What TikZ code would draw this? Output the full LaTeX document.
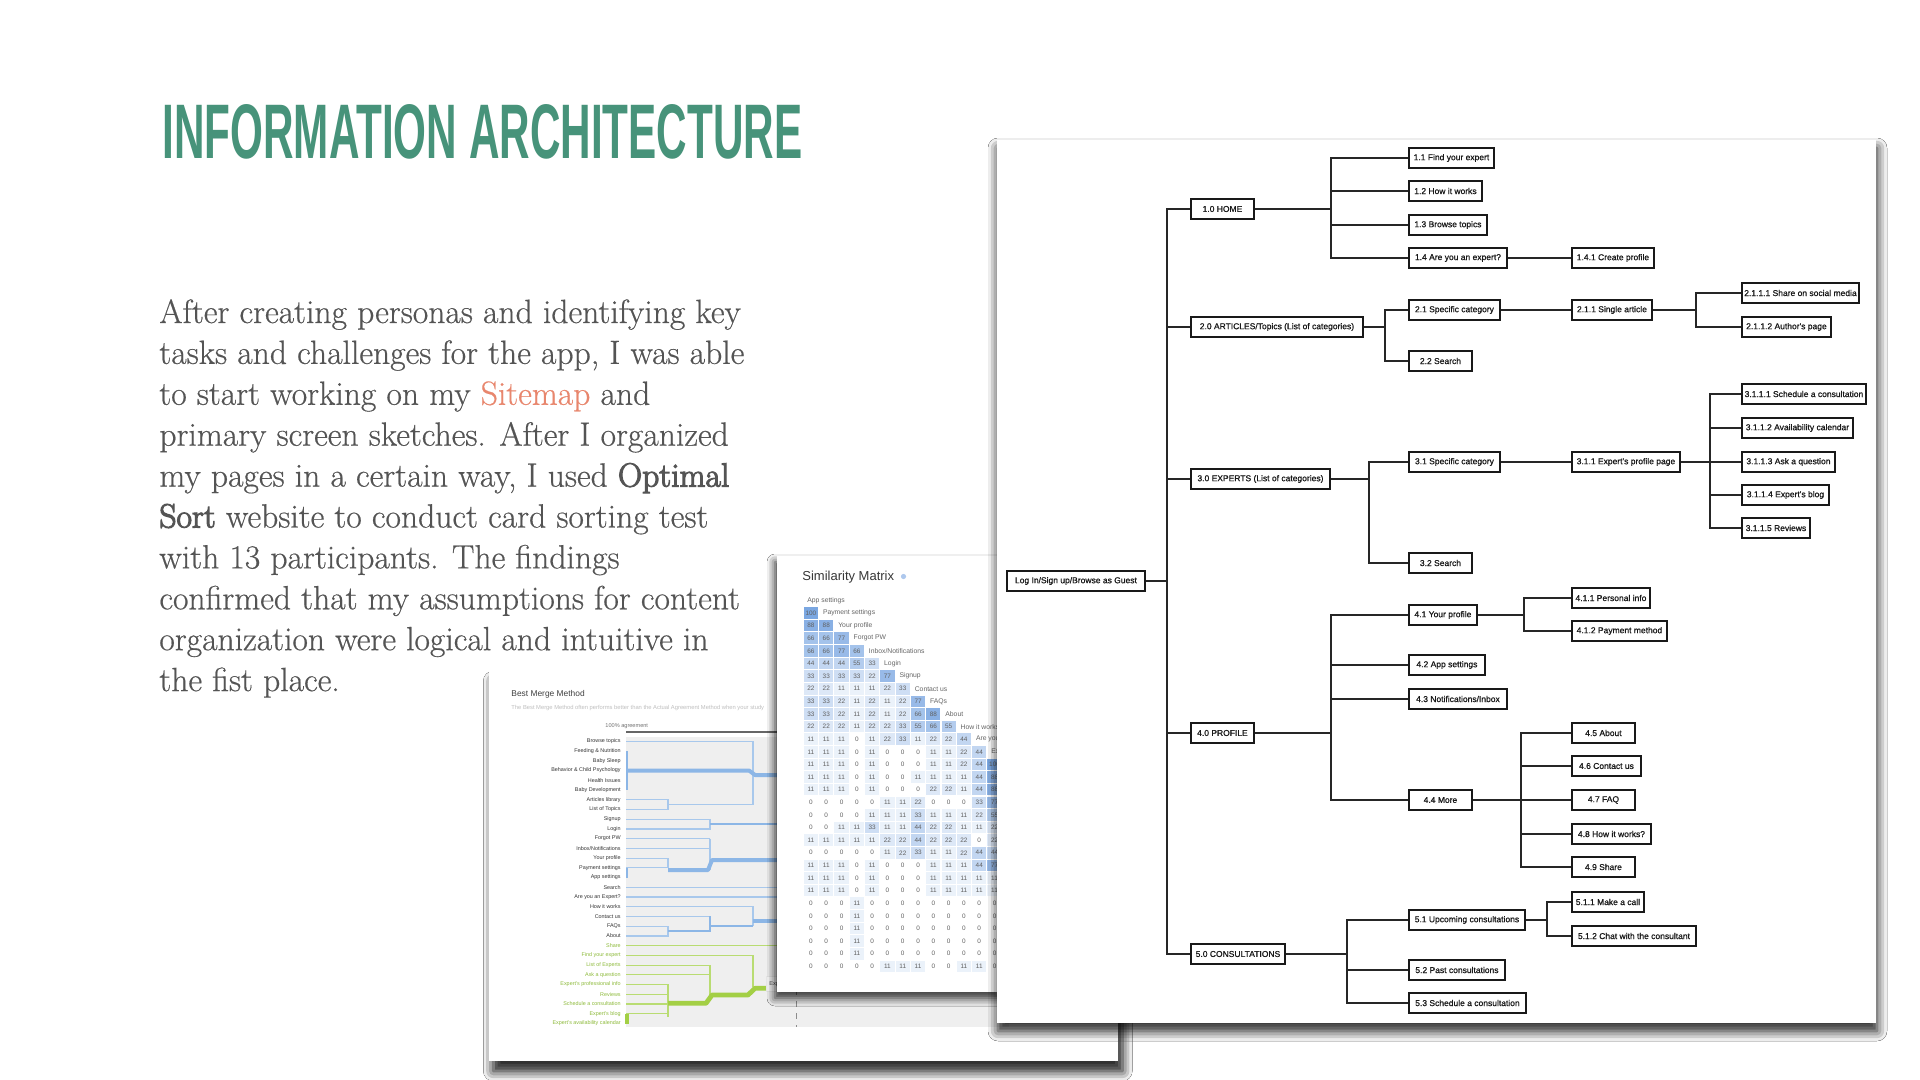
\documentclass[tikz,border=0pt]{standalone}
\usepackage{fontspec}
\usepackage{graphicx}
\usetikzlibrary{shadows.blur}

\newfontfamily\uisans{Liberation Sans}
\newfontfamily\mapsans{Liberation Sans}[FakeBold=0.8]
\newfontfamily\headsans{Liberation Sans}
\newfontfamily\bodyserif{Latin Modern Roman}[FakeBold=0.5]
\newfontfamily\bodystrong{Latin Modern Roman}[FakeBold=3.2]

\definecolor{headgreen}{HTML}{47937A}
\definecolor{bodytext}{HTML}{545454}
\definecolor{linkred}{HTML}{E8866D}
\definecolor{cellblue}{HTML}{4A86D6}
\definecolor{treeblue}{HTML}{A8C8EC}
\definecolor{treebluedark}{HTML}{8CB6E6}
\definecolor{treegreen}{HTML}{B9DC72}
\definecolor{treegreendark}{HTML}{A3CF45}
\definecolor{panelgray}{HTML}{EFEFEF}
\definecolor{labelgreen}{HTML}{8DBA3A}

\tikzset{
  card/.style={fill=white, inner sep=0pt, outer sep=0pt, anchor=north west,
    blur shadow={shadow xshift=0pt, shadow yshift=-3pt, shadow blur radius=4pt, shadow opacity=45}},
  pagebox/.style={draw=black!90, line width=0.95pt, fill=white, inner sep=0pt,
    minimum height=10pt, text=black!90, font=\mapsans\fontsize{4.25}{5}\selectfont},
  branch/.style={draw=black!85, line width=0.7pt},
  bodyline/.style={anchor=base west, inner sep=0pt, text=bodytext,
    font=\bodyserif\fontsize{16.8}{20.45}\selectfont},
  cellnum/.style={inner sep=0pt, text=black!62, font=\uisans\fontsize{3.2}{4}\selectfont},
  rowlabel/.style={anchor=west, inner sep=0pt, text=black!60, font=\uisans\fontsize{3.4}{4}\selectfont},
  treelabel/.style={anchor=east, inner sep=0pt, font=\uisans\fontsize{2.7}{3}\selectfont},
  bthin/.style={draw=treeblue, line width=0.6pt},
  bmed/.style={draw=treebluedark, line width=1.1pt},
  bthick/.style={draw=treebluedark, line width=2pt, line join=round},
  gthin/.style={draw=treegreen, line width=0.6pt},
  gthick/.style={draw=treegreendark, line width=2.4pt, line join=round},
}

% one page of the sitemap: name, left x, right x, centre y, caption
\newcommand\sitebox[5]{\node[pagebox, minimum width={(#3-#2)*0.5pt}, anchor=west] (#1) at (#2,#4) {#5};}

\begin{document}
\begin{tikzpicture}[x=0.5pt,y=-0.5pt]
\fill[white] (0,0) rectangle (1920,1080);
\useasboundingbox (0,0) rectangle (1920,1080);

% ---------- heading ----------
\node[anchor=south west, inner sep=0pt, text=headgreen] (title) at (162,160)
  {\resizebox{320pt}{27pt}{\headsans\bfseries INFORMATION ARCHITECTURE}};

% ---------- body text ----------
\node[bodyline] (p1) at (159,323.0) {After creating personas and identifying key};
\node[bodyline] (p2) at (159,363.9) {tasks and challenges for the app, I was able};
\node[bodyline] (p3) at (159,404.8) {to start working on my \textcolor{linkred}{Sitemap} and};
\node[bodyline] (p4) at (159,445.7) {primary screen sketches. After I organized};
\node[bodyline] (p5) at (159,486.6) {my pages in a certain way, I used {\bodystrong Optimal}};
\node[bodyline] (p6) at (159,527.5) {{\bodystrong Sort} website to conduct card sorting test};
\node[bodyline] (p7) at (159,568.4) {with 13 participants. The findings};
\node[bodyline] (p8) at (159,609.3) {confirmed that my assumptions for content};
\node[bodyline] (p9) at (159,650.2) {organization were logical and intuitive in};
\node[bodyline] (p10) at (159,691.1) {the fist place.};

% ---------- best merge method card ----------
\node[card, minimum width=314.5pt, minimum height=195pt,
  blur shadow={shadow yshift=-5pt, shadow blur radius=5pt, shadow opacity=60}] (mergecard) at (489,671) {};
\begin{scope}
\clip (489,671) rectangle (1118,1061);
\node[anchor=west, inner sep=0pt, text=black!75, font=\uisans\fontsize{4.2}{5}\selectfont] (mergetitle) at (511,694) {Best Merge Method};
\node[anchor=west, inner sep=0pt, text=black!25, font=\uisans\fontsize{2.9}{3.5}\selectfont] (mergesub) at (511,708)
  {The Best Merge Method often performs better than the Actual Agreement Method when your study};
\node[anchor=west, inner sep=0pt, text=black!55, font=\uisans\fontsize{2.8}{3.5}\selectfont] (agree) at (605,726) {100\% agreement};
\fill[panelgray] (626,737) rectangle (1009,1027);
\draw[black!60, line width=0.6pt] (626,732) -- (1009,732);
\draw[black!45, line width=0.4pt, dashed] (796,737) -- (796,1027);

\foreach \lab [count=\i from 0] in {Browse topics, Feeding \& Nutrition, Baby Sleep,
  Behavior \& Child Psychology, Health Issues, Baby Development, Articles library,
  List of Topics, Signup, Login, Forgot PW, Inbox/Notifications, Your profile,
  Payment settings, App settings, Search, Are you an Expert?, How it works,
  Contact us, FAQs, About}
  \node[treelabel, text=black!80] (bm-\i) at (621,{741.3+9.73*\i}) {\lab};
\foreach \lab [count=\i from 21] in {Share, Find your expert, List of Experts,
  Ask a question, Expert's professional info, Reviews, Schedule a consultation,
  Expert's blog, Expert's availability calendar}
  \node[treelabel, text=labelgreen] (bm-\i) at (621,{741.3+9.73*\i}) {\lab};

% blue clusters
\draw[bthin] (626,741.3) -- (753,741.3) -- (753,804.6);
\draw[bmed] (627,751.0) -- (627,789.9);
\draw[bthick] (627,770.5) -- (749,770.5) -- (755,775) -- (800,775);
\draw[bthin] (626,799.7) -- (668,799.7) -- (668,809.4) -- (626,809.4);
\draw[bthin] (668,804.6) -- (753,804.6);
\draw[bthin] (626,819.1) -- (710,819.1) -- (710,828.9) -- (626,828.9);
\draw[bmed] (710,824) -- (800,824);
\draw[bthin] (626,838.6) -- (710,838.6);
\draw[bthin] (626,848.3) -- (710,848.3);
\draw[bthin] (626,858.1) -- (668,858.1) -- (668,867.8) -- (626,867.8);
\draw[bmed] (627,867.8) -- (627,877.5);
\draw[bthin] (710,838.6) -- (710,870);
\draw[bthick] (668,870) -- (708,870) -- (712,860) -- (800,860);
\draw[bthin] (626,887.3) -- (800,887.3);
\draw[bthin] (626,897.0) -- (800,897.0);
\draw[bthin] (626,906.7) -- (753,906.7) -- (753,925.7);
\draw[bthin] (626,916.4) -- (710,916.4);
\draw[bthin] (626,926.2) -- (668,926.2) -- (668,935.9) -- (626,935.9);
\draw[bmed] (668,930.7) -- (710,930.7) -- (710,916.4);
\draw[bmed] (710,925.7) -- (753,925.7);
\draw[bthick] (753,920.7) -- (800,920.7);
% green clusters
\draw[gthin] (626,945.6) -- (800,945.6);
\draw[gthin] (626,955.4) -- (753,955.4) -- (753,986.7);
\draw[gthin] (626,965.1) -- (710,965.1) -- (710,998);
\draw[gthin] (626,974.8) -- (710,974.8);
\draw[gthin] (626,984.6) -- (668,984.6) -- (668,1016.7);
\draw[gthin] (626,994.3) -- (668,994.3);
\draw[gthin] (626,1004.0) -- (668,1004.0);
\draw[gthin] (626,1013.7) -- (668,1013.7);
\draw[gthick] (627,1013.7) -- (627,1023.5);
\draw[gthick] (668,1003.3) -- (706,1003.3) -- (712,995) -- (748,995) -- (755,988.3) -- (766,988.3);
\node[anchor=west, draw=black!10, fill=black!2, inner sep=1.5pt, minimum height=7.5pt,
  text=black!70, font=\uisans\fontsize{2.8}{3.5}\selectfont] (tag) at (766,984) {Experts};
\end{scope}

% ---------- similarity matrix card ----------
\node[card, minimum width=112pt, minimum height=218pt,
  blur shadow={shadow xshift=-1pt, shadow yshift=-3pt, shadow blur radius=4pt, shadow opacity=50}] (simcard) at (777,556) {};
\begin{scope}
\clip (777,556) rectangle (1001,992);
\node[anchor=base west, inner sep=0pt, text=black!78, font=\uisans\fontsize{6.5}{8}\selectfont] (simtitle) at (802,580) {Similarity Matrix};
\fill[cellblue!45!white] (903.5,576.5) circle (2.6);
\node[rowlabel] (lab-0) at (807,600.7) {App settings};
\foreach \vals [count=\r] in {
  {100},
  {88,88},
  {66,66,77},
  {66,66,77,66},
  {44,44,44,55,33},
  {33,33,33,33,22,77},
  {22,22,11,11,11,22,33},
  {33,33,22,11,22,11,22,77},
  {33,33,22,11,22,11,22,66,88},
  {22,22,22,11,22,22,33,55,66,55},
  {11,11,11,0,11,22,33,11,22,22,44},
  {11,11,11,0,11,0,0,0,11,11,22,44},
  {11,11,11,0,11,0,0,0,11,11,22,44,100},
  {11,11,11,0,11,0,0,11,11,11,11,44,88},
  {11,11,11,0,11,0,0,0,22,22,11,44,88},
  {0,0,0,0,0,11,11,22,0,0,0,33,77},
  {0,0,0,0,11,11,11,33,11,11,11,22,55},
  {0,0,11,11,33,11,11,44,22,22,11,11,22},
  {11,11,11,11,11,22,22,44,22,22,22,0,22},
  {0,0,0,0,0,11,22,33,11,11,22,44,44},
  {11,11,11,0,11,0,0,0,11,11,11,44,77},
  {11,11,11,0,11,0,0,0,11,11,11,11,11},
  {11,11,11,0,11,0,0,0,11,11,11,11,11},
  {0,0,0,11,0,0,0,0,0,0,0,0,0},
  {0,0,0,11,0,0,0,0,0,0,0,0,0},
  {0,0,0,11,0,0,0,0,0,0,0,0,0},
  {0,0,0,11,0,0,0,0,0,0,0,0,0},
  {0,0,0,11,0,0,0,0,0,0,0,0,0},
  {0,0,0,0,0,11,11,11,0,0,11,11,0}}{
  \pgfmathsetmacro\cy{613+(\r-1)*12.62}
  \foreach \v [count=\c] in \vals {
    \pgfmathsetmacro\cx{803.3+(\c-0.5)*15.3}
    \ifnum\v>0
      \pgfmathtruncatemacro\pct{4+0.7*\v}
      \fill[cellblue!\pct!white] ({\cx-7.1},{\cy-5.8}) rectangle ({\cx+7.1},{\cy+5.8});
    \fi
    \node[cellnum] (m-\r-\c) at (\cx,\cy) {\v};
  }
}
\foreach \lab [count=\r] in {Payment settings, Your profile, Forgot PW,
  Inbox/Notifications, Login, Signup, Contact us, FAQs, About, How it works,
  Are you an Expert?, Expert's professional info}
  \node[rowlabel] (lab-\r) at ({803.3+\r*15.3+4},{613+(\r-1)*12.62}) {\lab};
\end{scope}

% ---------- sitemap card ----------
\node[card, minimum width=439.5pt, minimum height=441.5pt,
  blur shadow={shadow xshift=0.5pt, shadow yshift=-4pt, shadow blur radius=5pt, shadow opacity=55}] (mapcard) at (997,140) {};

\sitebox{login}{1006}{1144}{581}{Log In/Sign up/Browse as Guest}
\sitebox{home}{1190}{1253}{209}{1.0 HOME}
\sitebox{art}{1190}{1362}{327}{2.0 ARTICLES/Topics (List of categories)}
\sitebox{exp}{1190}{1329}{479}{3.0 EXPERTS (List of categories)}
\sitebox{prof}{1190}{1253}{733}{4.0 PROFILE}
\sitebox{cons}{1190}{1284}{954}{5.0 CONSULTATIONS}

\sitebox{c11}{1408}{1493}{158}{1.1 Find your expert}
\sitebox{c12}{1408}{1481}{191}{1.2 How it works}
\sitebox{c13}{1408}{1486}{225}{1.3 Browse topics}
\sitebox{c14}{1408}{1506}{258}{1.4 Are you an expert?}
\sitebox{c141}{1571}{1653}{258}{1.4.1 Create profile}

\sitebox{c21}{1408}{1499}{310}{2.1 Specific category}
\sitebox{c211}{1571}{1651}{310}{2.1.1 Single article}
\sitebox{c2111}{1741}{1858}{293}{2.1.1.1 Share on social media}
\sitebox{c2112}{1741}{1830}{327}{2.1.1.2 Author's page}
\sitebox{c22}{1408}{1471}{361}{2.2 Search}

\sitebox{c31}{1408}{1499}{462}{3.1 Specific category}
\sitebox{c311}{1571}{1679}{462}{3.1.1 Expert's profile page}
\sitebox{c3111}{1741}{1865}{394}{3.1.1.1 Schedule a consultation}
\sitebox{c3112}{1741}{1852}{428}{3.1.1.2 Availability calendar}
\sitebox{c3113}{1741}{1834}{462}{3.1.1.3 Ask a question}
\sitebox{c3114}{1741}{1828}{495}{3.1.1.4 Expert's blog}
\sitebox{c3115}{1741}{1809}{528}{3.1.1.5 Reviews}
\sitebox{c32}{1408}{1471}{563}{3.2 Search}

\sitebox{c41}{1408}{1476}{615}{4.1 Your profile}
\sitebox{c411}{1571}{1649}{598}{4.1.1 Personal info}
\sitebox{c412}{1571}{1666}{631}{4.1.2 Payment method}
\sitebox{c42}{1408}{1484}{665}{4.2 App settings}
\sitebox{c43}{1408}{1506}{699}{4.3 Notifications/Inbox}
\sitebox{c44}{1408}{1471}{800}{4.4 More}
\sitebox{c45}{1571}{1634}{733}{4.5 About}
\sitebox{c46}{1571}{1640}{766}{4.6 Contact us}
\sitebox{c47}{1571}{1634}{800}{4.7 FAQ}
\sitebox{c48}{1571}{1650}{834}{4.8 How it works?}
\sitebox{c49}{1571}{1634}{867}{4.9 Share}

\sitebox{c51}{1408}{1524}{920}{5.1 Upcoming consultations}
\sitebox{c511}{1571}{1643}{902}{5.1.1 Make a call}
\sitebox{c512}{1571}{1695}{936}{5.1.2 Chat with the consultant}
\sitebox{c52}{1408}{1504}{970}{5.2 Past consultations}
\sitebox{c53}{1408}{1525}{1003}{5.3 Schedule a consultation}

% branching points
\coordinate (trunk) at (1167,581);
\coordinate (bhome) at (1331,209);
\coordinate (bart) at (1385,327);
\coordinate (b211) at (1696,310);
\coordinate (bexp) at (1369,479);
\coordinate (b311) at (1710,462);
\coordinate (bprof) at (1331,733);
\coordinate (b41) at (1524,615);
\coordinate (b44) at (1521,800);
\coordinate (bcons) at (1347,954);
\coordinate (b51) at (1547,920);

\draw[branch] (login.east) -- (trunk);
\foreach \n in {home,art,exp,prof,cons} \draw[branch] (trunk) |- (\n.west);

\draw[branch] (home.east) -- (bhome);
\foreach \n in {c11,c12,c13,c14} \draw[branch] (bhome) |- (\n.west);
\draw[branch] (c14.east) -- (c141.west);

\draw[branch] (art.east) -- (bart);
\foreach \n in {c21,c22} \draw[branch] (bart) |- (\n.west);
\draw[branch] (c21.east) -- (c211.west);
\draw[branch] (c211.east) -- (b211);
\foreach \n in {c2111,c2112} \draw[branch] (b211) |- (\n.west);

\draw[branch] (exp.east) -- (bexp);
\foreach \n in {c31,c32} \draw[branch] (bexp) |- (\n.west);
\draw[branch] (c31.east) -- (c311.west);
\draw[branch] (c311.east) -- (b311);
\foreach \n in {c3111,c3112,c3113,c3114,c3115} \draw[branch] (b311) |- (\n.west);

\draw[branch] (prof.east) -- (bprof);
\foreach \n in {c41,c42,c43,c44} \draw[branch] (bprof) |- (\n.west);
\draw[branch] (c41.east) -- (b41);
\foreach \n in {c411,c412} \draw[branch] (b41) |- (\n.west);
\draw[branch] (c44.east) -- (b44);
\foreach \n in {c45,c46,c47,c48,c49} \draw[branch] (b44) |- (\n.west);

\draw[branch] (cons.east) -- (bcons);
\foreach \n in {c51,c52,c53} \draw[branch] (bcons) |- (\n.west);
\draw[branch] (c51.east) -- (b51);
\foreach \n in {c511,c512} \draw[branch] (b51) |- (\n.west);

\end{tikzpicture}
\end{document}
